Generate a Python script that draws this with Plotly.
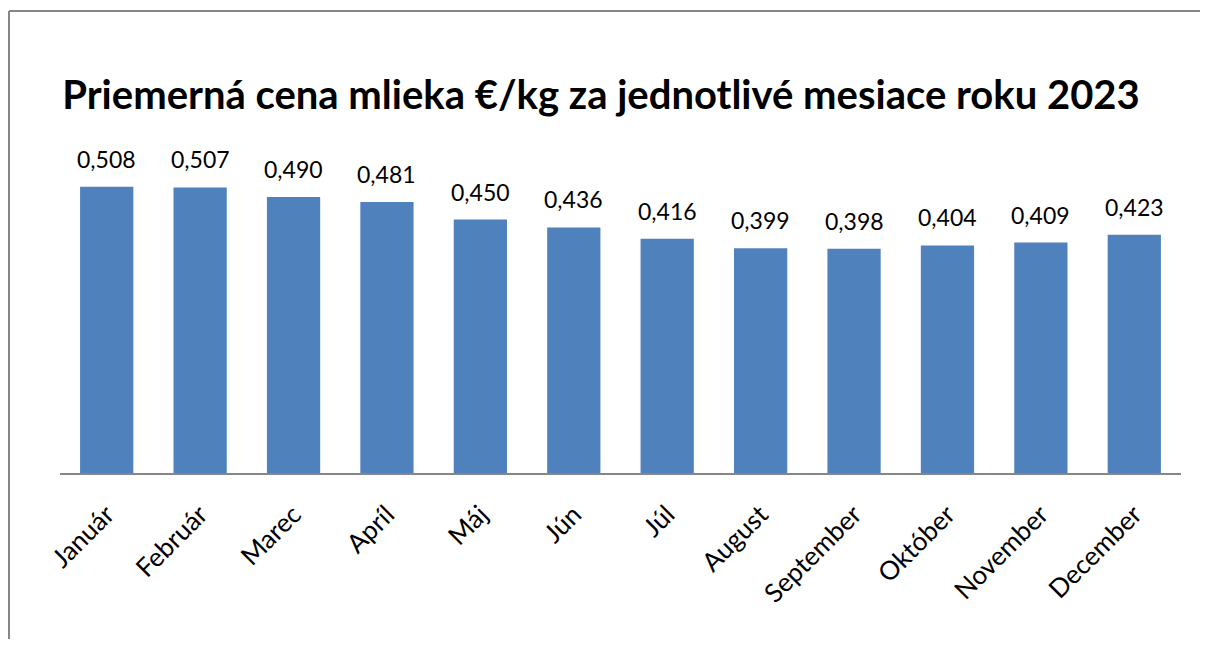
import plotly.graph_objects as go

months = ["Január", "Február", "Marec", "Apríl", "Máj", "Jún", "Júl",
          "August", "September", "Október", "November", "December"]
prices = [0.508, 0.507, 0.490, 0.481, 0.450, 0.436, 0.416,
          0.399, 0.398, 0.404, 0.409, 0.423]
labels = [f"{v:.3f}".replace(".", ",") for v in prices]

# page has an 8px body margin, so the figure is sized to fit inside the window
W, H = 1192, 631
L, R, T, B = 52, 19, 127, 166
pw = W - L - R
ph = H - T - B

fig = go.Figure(go.Bar(
    x=months, y=prices,
    marker=dict(color="#4F81BD", line=dict(width=0)),
    hoverinfo="x+y",
))

for m, v, t in zip(months, prices, labels):
    fig.add_annotation(x=m, y=v, text=t, showarrow=False, yanchor="bottom",
                       yshift=12, font=dict(size=23, color="black"))


def px2x(px):
    return (px - L) / pw


def py2y(py):
    return (H - B - py) / ph


frame = dict(color="#868686", width=2)
fig.update_layout(
    width=W, height=H,
    margin=dict(l=L, r=R, t=T, b=B),
    paper_bgcolor="white", plot_bgcolor="white",
    font=dict(family="Lato, Carlito, Calibri, sans-serif", color="black"),
    bargap=0.43,
    showlegend=False,
    title=dict(text="<b>Priemerná cena mlieka €/kg za jednotlivé mesiace roku 2023</b>",
               x=593 / W, xanchor="center", y=1 - 87 / H, yanchor="middle",
               font=dict(size=40, color="black")),
    xaxis=dict(tickangle=-45, tickfont=dict(size=26), showline=True,
               linecolor="#868686", linewidth=2, ticks="", showgrid=False,
               ticklabelstandoff=14),
    yaxis=dict(range=[0, 0.6], visible=False),
    shapes=[
        dict(type="line", xref="paper", yref="paper", x0=px2x(1), x1=px2x(1),
             y0=py2y(H), y1=py2y(3), line=frame, layer="below"),
        dict(type="line", xref="paper", yref="paper", x0=px2x(1), x1=px2x(W),
             y0=py2y(3), y1=py2y(3), line=frame, layer="below"),
    ],
)

fig.write_html("out.html")
